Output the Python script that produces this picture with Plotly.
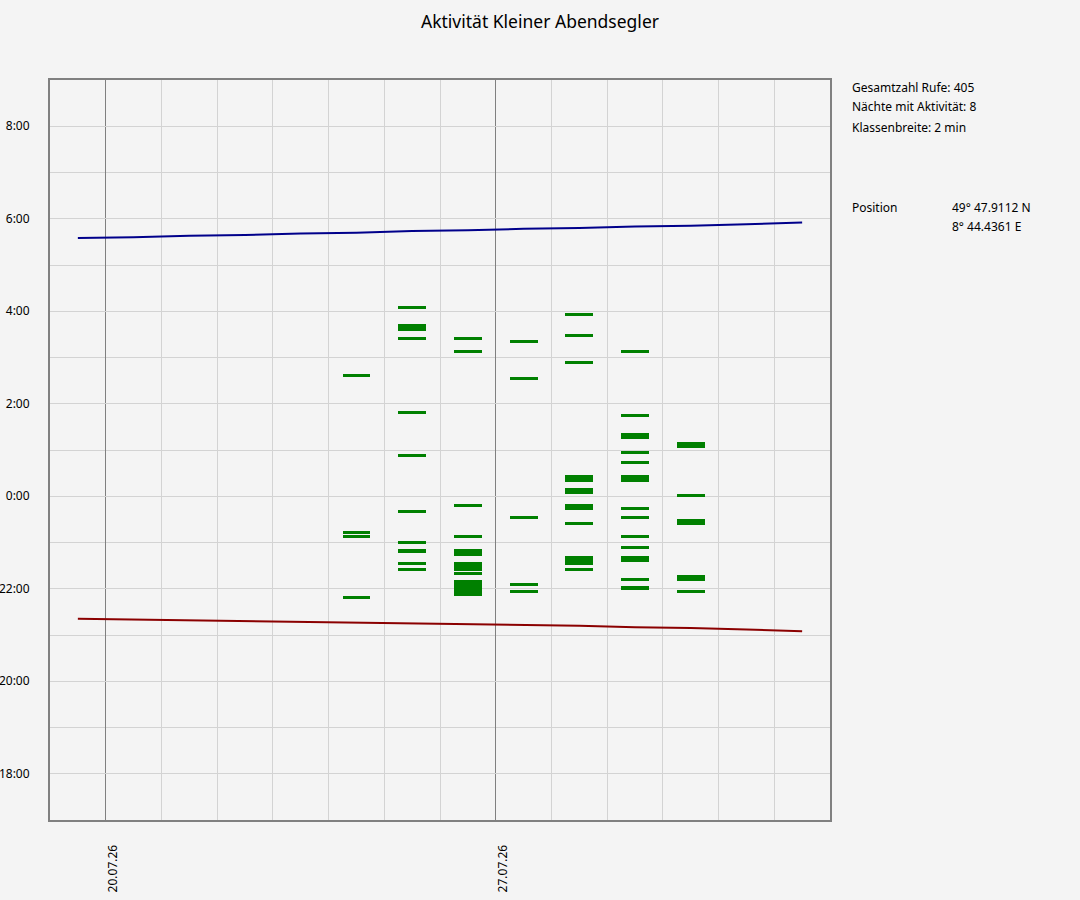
import plotly.graph_objects as go
import pandas as pd

# ---------------- data ----------------
days = pd.date_range("2026-07-19", "2026-08-01", freq="D")
sunset = ["21:21", "21:20", "21:19", "21:18", "21:17", "21:16", "21:15",
          "21:14", "21:13", "21:12", "21:10", "21:09", "21:07", "21:05"]
sunrise = ["5:35", "5:36", "5:38", "5:39", "5:41", "5:42", "5:44",
           "5:45", "5:47", "5:48", "5:50", "5:51", "5:53", "5:55"]

# activity classes per night: (time of class centre, length in minutes)
night_2407 = [("2:37", 4), ("23:13", 4), ("23:08", 4), ("21:49", 4)]
night_2507 = [("4:05", 4), ("3:39", 8), ("3:25", 4), ("1:49", 4), ("0:53", 4),
              ("23:40", 4), ("23:00", 4), ("22:49", 4), ("22:33", 4), ("22:25", 4)]
night_2607 = [("3:25", 4), ("3:08", 4), ("23:48", 4), ("23:08", 4), ("22:47", 8),
              ("22:29", 12), ("22:20", 4), ("22:01", 20)]
night_2707 = [("3:21", 4), ("2:33", 4), ("23:33", 4), ("22:05", 4), ("21:57", 4)]
night_2807 = [("3:56", 4), ("3:29", 4), ("2:53", 4), ("0:23", 8), ("0:07", 8),
              ("23:46", 8), ("23:25", 4), ("22:37", 12), ("22:25", 4)]
night_2907 = [("3:08", 4), ("1:45", 4), ("1:18", 8), ("0:57", 4), ("0:44", 4),
              ("0:23", 8), ("23:44", 4), ("23:33", 4), ("23:08", 4), ("22:53", 4),
              ("22:39", 8), ("22:12", 4), ("22:01", 4)]
night_3007 = [("1:07", 8), ("0:01", 4), ("23:27", 8), ("22:14", 8), ("21:57", 4)]

nights = {
    "2026-07-24": night_2407,
    "2026-07-25": night_2507,
    "2026-07-26": night_2607,
    "2026-07-27": night_2707,
    "2026-07-28": night_2807,
    "2026-07-29": night_2907,
    "2026-07-30": night_3007,
}

y_tickvals = [18, 20, 22, 24, 26, 28, 30, 32]
y_ticktext = ["18:00", "20:00", "22:00", "0:00", "2:00", "4:00", "6:00", "8:00"]
x_tickvals = ["2026-07-20", "2026-07-27"]
x_ticktext = ["20.07.26", "27.07.26"]

info_lines = ["Gesamtzahl Rufe: 405", "Nächte mit Aktivität: 8", "Klassenbreite: 2 min"]
pos_label = "Position"
pos_values = ["49° 47.9112 N", "8° 44.4361 E"]
title_text = "Aktivität Kleiner Abendsegler"


def to_h(t):
    h, m = t.split(":")
    v = int(h) + int(m) / 60.0
    if v < 12:
        v += 24
    return v


FONT = "Noto Sans"
BG = "#f4f4f4"

fig = go.Figure()

# activity bars
bx, by, bb = [], [], []
for d, items in nights.items():
    centre = pd.Timestamp(d) + pd.Timedelta(hours=12)
    for t, mins in items:
        length = mins / 60.0
        bx.append(centre)
        by.append(length)
        bb.append(to_h(t) - length / 2)
fig.add_trace(go.Bar(x=bx, y=by, base=bb, width=[43200000] * len(bx),
                     marker=dict(color="#008000", line=dict(width=0)),
                     showlegend=False, hoverinfo="skip"))

centres = [d + pd.Timedelta(hours=12) for d in days]
fig.add_trace(go.Scatter(x=centres, y=[to_h(t) for t in sunset], mode="lines",
                         line=dict(color="#8b0000", width=2), showlegend=False))
fig.add_trace(go.Scatter(x=centres, y=[to_h(t) for t in sunrise], mode="lines",
                         line=dict(color="#00008b", width=2), showlegend=False))

fig.update_layout(
    width=1080, height=900,
    margin=dict(l=50, r=250, t=80, b=80),
    paper_bgcolor=BG, plot_bgcolor=BG,
    font=dict(family=FONT, size=12, color="#000000"),
    title=dict(text=title_text, x=0.5, xref="container", xanchor="center",
               y=1 - 22 / 900, yref="container", yanchor="middle",
               font=dict(family=FONT, size=17.5, color="#000000")),
    bargap=0,
)

fig.update_xaxes(
    type="date", range=["2026-07-19", "2026-08-02"], automargin=False,
    tickmode="array", tickvals=x_tickvals, ticktext=x_ticktext, tickangle=-90,
    ticks="", ticklabelshift=7, ticklabelstandoff=18,
    showgrid=True, gridcolor="#808080", gridwidth=1,
    minor=dict(dtick=86400000, tick0="2026-07-19", showgrid=True,
               gridcolor="#d3d3d3", gridwidth=1, ticks=""),
    showline=True, mirror=True, linecolor="#808080", linewidth=2,
    zeroline=False, fixedrange=True,
)
fig.update_yaxes(
    range=[17, 33], automargin=False,
    tickmode="array", tickvals=y_tickvals, ticktext=y_ticktext,
    ticks="", ticklabelstandoff=16,
    showgrid=True, gridcolor="#d3d3d3", gridwidth=1,
    minor=dict(dtick=1, tick0=17, showgrid=True, gridcolor="#d3d3d3",
               gridwidth=1, ticks=""),
    showline=True, mirror=True, linecolor="#808080", linewidth=2,
    zeroline=False, fixedrange=True,
)


def px_to_paper_x(px):
    return (px - 50) / 780.0


def px_to_paper_y(py):
    return (820 - py) / 740.0


for i, line in enumerate(info_lines):
    fig.add_annotation(text=line, x=px_to_paper_x(850), y=px_to_paper_y(87 + 20 * i),
                       xref="paper", yref="paper", xanchor="left", yanchor="middle",
                       showarrow=False, font=dict(family=FONT, size=12))
fig.add_annotation(text=pos_label, x=px_to_paper_x(850), y=px_to_paper_y(207),
                   xref="paper", yref="paper", xanchor="left", yanchor="middle",
                   showarrow=False, font=dict(family=FONT, size=12))
for i, v in enumerate(pos_values):
    fig.add_annotation(text=v, x=px_to_paper_x(950), y=px_to_paper_y(207 + 20 * i),
                       xref="paper", yref="paper", xanchor="left", yanchor="middle",
                       showarrow=False, font=dict(family=FONT, size=12))

fig.write_html(
    "out.html",
    config={"displayModeBar": False},
    post_script="document.body.style.margin='0';document.body.style.padding='0';"
                "document.body.style.overflow='hidden';",
)
